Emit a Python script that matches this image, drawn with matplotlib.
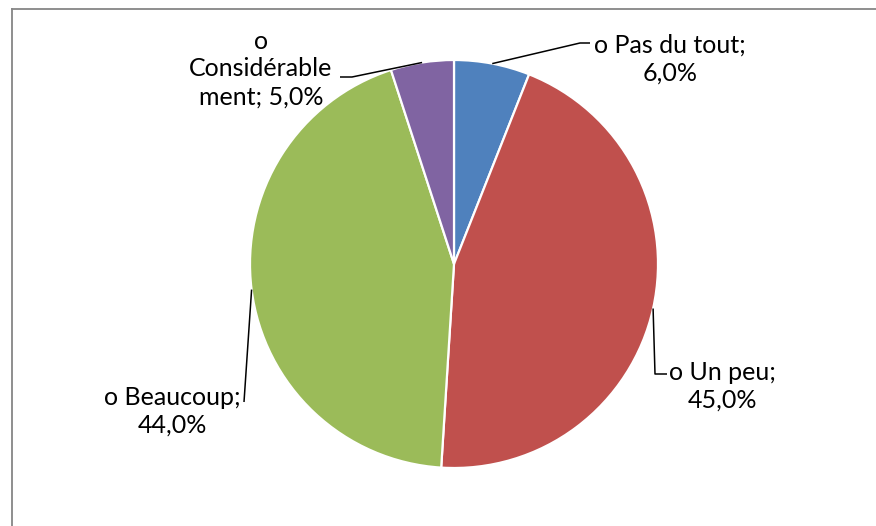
import math
import matplotlib
matplotlib.use("Agg")
import matplotlib.pyplot as plt
from matplotlib.lines import Line2D

# ── data ─────────────────────────────────────────────────────────────────────
labels = ["o Pas du tout", "o Un peu", "o Beaucoup", "o\nConsidérable\nment"]
values = [6.0, 45.0, 44.0, 5.0]
colors = ["#4F81BD", "#C0504D", "#9BBB59", "#8064A2"]

# ── layout (pixel coords, origin bottom-left) ────────────────────────────────
W, H = 876, 526
CX, CY, R = 454, 262, 204
# label block centre and leader path (after the edge point)
label_pos = [(670, 467), (722, 140), (172, 115), (261, 457)]
leader_pts = [
    [(580, 483), (590, 483)],
    [(655, 152), (667, 152)],
    [(244, 124)],
    [(352, 449), (340, 449)],
]

fig = plt.figure(figsize=(W / 100, H / 100), dpi=100)
ax = fig.add_axes([0, 0, 1, 1])

wedges, _ = ax.pie(values, colors=colors, startangle=90, counterclock=False,
                   center=(CX, CY), radius=R, frame=True,
                   wedgeprops=dict(edgecolor="white", linewidth=1.6))
ax.set_xlim(0, W)
ax.set_ylim(0, H)
ax.set_aspect("equal")
ax.axis("off")

for w, lab, v, pos, pts in zip(wedges, labels, values, label_pos, leader_pts):
    mid = math.radians((w.theta1 + w.theta2) / 2)
    ex, ey = CX + R * math.cos(mid), CY + R * math.sin(mid)
    xs = [ex] + [p[0] for p in pts]
    ys = [ey] + [p[1] for p in pts]
    ax.plot(xs, ys, color="black", linewidth=1.1, solid_capstyle="butt")
    if lab.startswith("o\n"):
        txt = f"{lab}; {v:.1f}%".replace(".", ",")
    else:
        txt = f"{lab};\n{v:.1f}%".replace(".", ",")
    ax.text(pos[0], pos[1], txt, ha="center", va="center", fontsize=18,
            family="Lato", color="black", linespacing=1.25, multialignment="center")

# chart frame (cropped at right/bottom like the original)
fig.add_artist(Line2D([11.5 / W, 11.5 / W], [0, 1 - 9 / H], color="#868686", linewidth=1.3))
fig.add_artist(Line2D([11.5 / W, 1], [1 - 9 / H, 1 - 9 / H], color="#868686", linewidth=1.3))

fig.savefig("out.png", dpi=100)
